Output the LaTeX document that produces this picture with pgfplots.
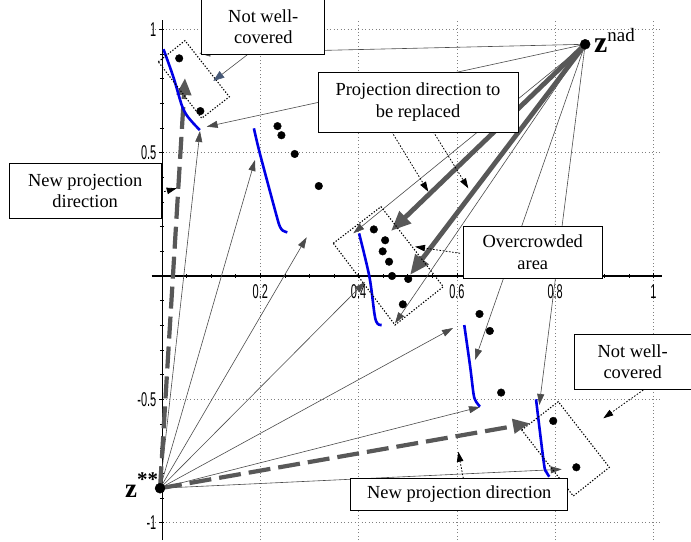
\documentclass[border=0pt]{standalone}
\usepackage{fontspec}
\setmainfont{Liberation Serif}
\newfontfamily\tickfont[FakeStretch=0.55]{Liberation Sans}
\usepackage{pgfplots}
\pgfplotsset{compat=1.18}
\usetikzlibrary{arrows.meta}
\definecolor{arrgray}{RGB}{88,88,88}
\definecolor{thingray}{RGB}{75,75,75}
\definecolor{bblue}{RGB}{0,0,230}
\definecolor{slatehead}{RGB}{70,88,118}
\tikzset{
  thinarr/.style={thingray, line width=0.6bp, -{Triangle[length=11bp,width=7bp]}},
  thickarr/.style={arrgray, line width=4.8bp, -{Triangle[length=20bp,width=16bp]}},
  dasharr/.style={arrgray, line width=4.2bp, dash pattern=on 22bp off 8bp, -{Triangle[length=17bp,width=14bp]}},
  notearr/.style={black, line width=0.8bp, dash pattern=on 1.6bp off 1.6bp, -{Triangle[length=10bp,width=6.5bp]}},
  tbox/.style={draw=black, line width=0.8bp, fill=white, align=center, inner sep=0pt, font=\fontsize{18.5}{21.5}\selectfont},
  rectdot/.style={black, line width=1.1bp, dash pattern=on 1.3bp off 1.7bp},
}
\begin{document}
\begin{tikzpicture}
\begin{axis}[
  x=491.5bp, y=246.5bp,
  xmin=-0.021, xmax=1.017, ymin=-1.071, ymax=1.04,
  axis lines=middle,
  axis line style={-},
  x axis line style={line width=1.5bp},
  y axis line style={line width=0.8bp},
  xtick={0.2,0.4,0.6,0.8,1}, xticklabels={0.2,0.4,0.6,0.8,1},
  ytick={-1,-0.5,0.5,1}, yticklabels={-1,-0.5,0.5,1},
  minor xtick={0.05,0.1,0.15,0.25,0.3,0.35,0.45,0.5,0.55,0.65,0.7,0.75,0.85,0.9,0.95},
  minor ytick={-0.9,-0.8,-0.7,-0.6,-0.4,-0.3,-0.2,-0.1,0.1,0.2,0.3,0.4,0.6,0.7,0.8,0.9},
  grid=major,
  major grid style={gray, line width=0.8bp, dash pattern=on 1bp off 2.5bp},
  tick style={black, line width=0.6bp},
  major tick length=5bp, minor tick length=4bp,
  tick label style={font=\tickfont\fontsize{20}{20}\selectfont, inner sep=0pt},
  xticklabel style={anchor=north, yshift=-6bp},
  yticklabel style={anchor=east, xshift=-3bp},
  clip=false,
]
% lines from z^nad
\addplot[thinarr] coordinates {(0.861,0.940) (0.0759,0.9035)};
\addplot[thinarr] coordinates {(0.861,0.940) (0.0909,0.6057)};
\addplot[thinarr] coordinates {(0.861,0.940) (0.3892,0.1732)};
\addplot[thinarr] coordinates {(0.861,0.940) (0.4741,-0.1919)};
\addplot[thinarr] coordinates {(0.861,0.940) (0.6368,-0.3408)};
\addplot[thinarr] coordinates {(0.861,0.940) (0.7677,-0.5233)};
\addplot[thickarr] coordinates {(0.861,0.940) (0.4659,0.1826)};
\addplot[thickarr] coordinates {(0.861,0.940) (0.5046,0.0041)};
% lines from z**
\addplot[thinarr] coordinates {(-0.004,-0.861) (0.0773,0.5882)};
\addplot[thinarr] coordinates {(-0.004,-0.861) (0.1892,0.4706)};
\addplot[thinarr] coordinates {(-0.004,-0.861) (0.2944,0.1570)};
\addplot[thinarr] coordinates {(-0.004,-0.861) (0.4130,-0.0243)};
\addplot[thinarr] coordinates {(-0.004,-0.861) (0.5921,-0.2110)};
\addplot[thinarr] coordinates {(-0.004,-0.861) (0.6470,-0.5314)};
\addplot[thinarr] coordinates {(-0.004,-0.861) (0.8132,-0.7842)};
\addplot[dasharr] coordinates {(-0.004,-0.861) (0.0468,0.8032)};
\addplot[dasharr] coordinates {(-0.004,-0.861) (0.7487,-0.5976)};
% blue front segments
\addplot[bblue, line width=2.6bp, smooth] coordinates {(0.003,0.920) (0.023,0.808) (0.040,0.694) (0.050,0.653) (0.064,0.619) (0.077,0.592)};
\addplot[bblue, line width=2.6bp, smooth] coordinates {(0.187,0.599) (0.199,0.498) (0.233,0.245) (0.240,0.200) (0.246,0.184) (0.255,0.177)};
\addplot[bblue, line width=2.6bp, smooth] coordinates {(0.401,0.173) (0.422,-0.003) (0.432,-0.150) (0.436,-0.185) (0.441,-0.197) (0.447,-0.199)};
\addplot[bblue, line width=2.6bp, smooth] coordinates {(0.615,-0.199) (0.627,-0.368) (0.634,-0.480) (0.639,-0.510) (0.647,-0.530)};
\addplot[bblue, line width=2.6bp, smooth] coordinates {(0.761,-0.500) (0.777,-0.760) (0.782,-0.795) (0.788,-0.814)};
% dotted rectangles
\addplot[rectdot] coordinates {(-0.0075,0.869) (0.0468,0.955) (0.137,0.727) (0.0808,0.640) (-0.0075,0.869)};
\addplot[rectdot] coordinates {(0.3485,0.1327) (0.4456,0.2811) (0.5723,-0.0434) (0.4741,-0.1988) (0.3485,0.1327)};
\addplot[rectdot] coordinates {(0.7318,-0.6247) (0.8063,-0.5099) (0.9101,-0.7761) (0.8368,-0.8925) (0.7318,-0.6247)};
% solution points
\addplot[only marks, mark=*, mark size=3.8bp, black] coordinates {
(0.035,0.883) (0.078,0.669) (0.235,0.608) (0.243,0.571) (0.270,0.495) (0.319,0.365)
(0.431,0.189) (0.454,0.145) (0.449,0.100) (0.462,0.058) (0.468,0.0) (0.501,-0.012) (0.490,-0.115)
(0.646,-0.154) (0.667,-0.223) (0.690,-0.473) (0.796,-0.588) (0.843,-0.776)};
% reference points
\addplot[only marks, mark=*, mark size=5bp, black] coordinates {(0.861,0.940) (-0.004,-0.861)};
% annotation arrows
\addplot[notearr] coordinates {(-0.0584,0.3083) (0.0299,0.3558)};
\addplot[thingray, line width=0.6bp, -{Triangle[length=11bp,width=8bp,color=slatehead]}] coordinates {(0.1756,0.9006) (0.1044,0.7911)};
\addplot[notearr] coordinates {(0.4673,0.5854) (0.5418,0.3420)};
\addplot[notearr] coordinates {(0.5520,0.5854) (0.6232,0.3558)};
\addplot[notearr] coordinates {(0.6063,0.0921) (0.5148,0.1189)};
\addplot[notearr] coordinates {(0.9792,-0.4625) (0.8979,-0.5773)};
\addplot[notearr] coordinates {(0.6130,-0.8207) (0.6029,-0.7128)};
% text boxes
\node[tbox, minimum width=123bp, minimum height=55bp] at (axis cs:0.2061,1.0121) {Not well-\\covered};
\node[tbox, minimum width=200bp, minimum height=60bp] at (axis cs:0.5209,0.7059) {Projection direction to\\be replaced};
\node[tbox, minimum width=152bp, minimum height=55bp] at (axis cs:-0.1563,0.3456) {New projection\\direction};
\node[tbox, minimum width=139bp, minimum height=52bp] at (axis cs:0.7544,0.0974) {Overcrowded\\area};
\node[tbox, minimum width=117bp, minimum height=55bp] at (axis cs:0.9577,-0.3481) {Not well-\\covered};
\node[tbox, minimum width=217bp, minimum height=32bp] at (axis cs:0.6049,-0.8852) {New projection direction};
% labels of reference points
\node[anchor=base west, inner sep=0pt] at (axis cs:0.8789,0.9047) {{\fontsize{30}{30}\selectfont\bfseries z}{\fontsize{19}{19}\selectfont\raisebox{11bp}{nad}}};
\node[anchor=base west, inner sep=0pt] at (axis cs:-0.0753,-0.9006) {{\fontsize{27}{27}\selectfont\bfseries z}{\fontsize{21}{21}\selectfont\bfseries\raisebox{11bp}{**}}};
\coordinate (BL) at (axis cs:-0.3296,-1.0791);
\coordinate (TR) at (axis cs:1.0763,1.1197);
\end{axis}
\pgfresetboundingbox
\path[use as bounding box] (BL) rectangle (TR);
\end{tikzpicture}
\end{document}
